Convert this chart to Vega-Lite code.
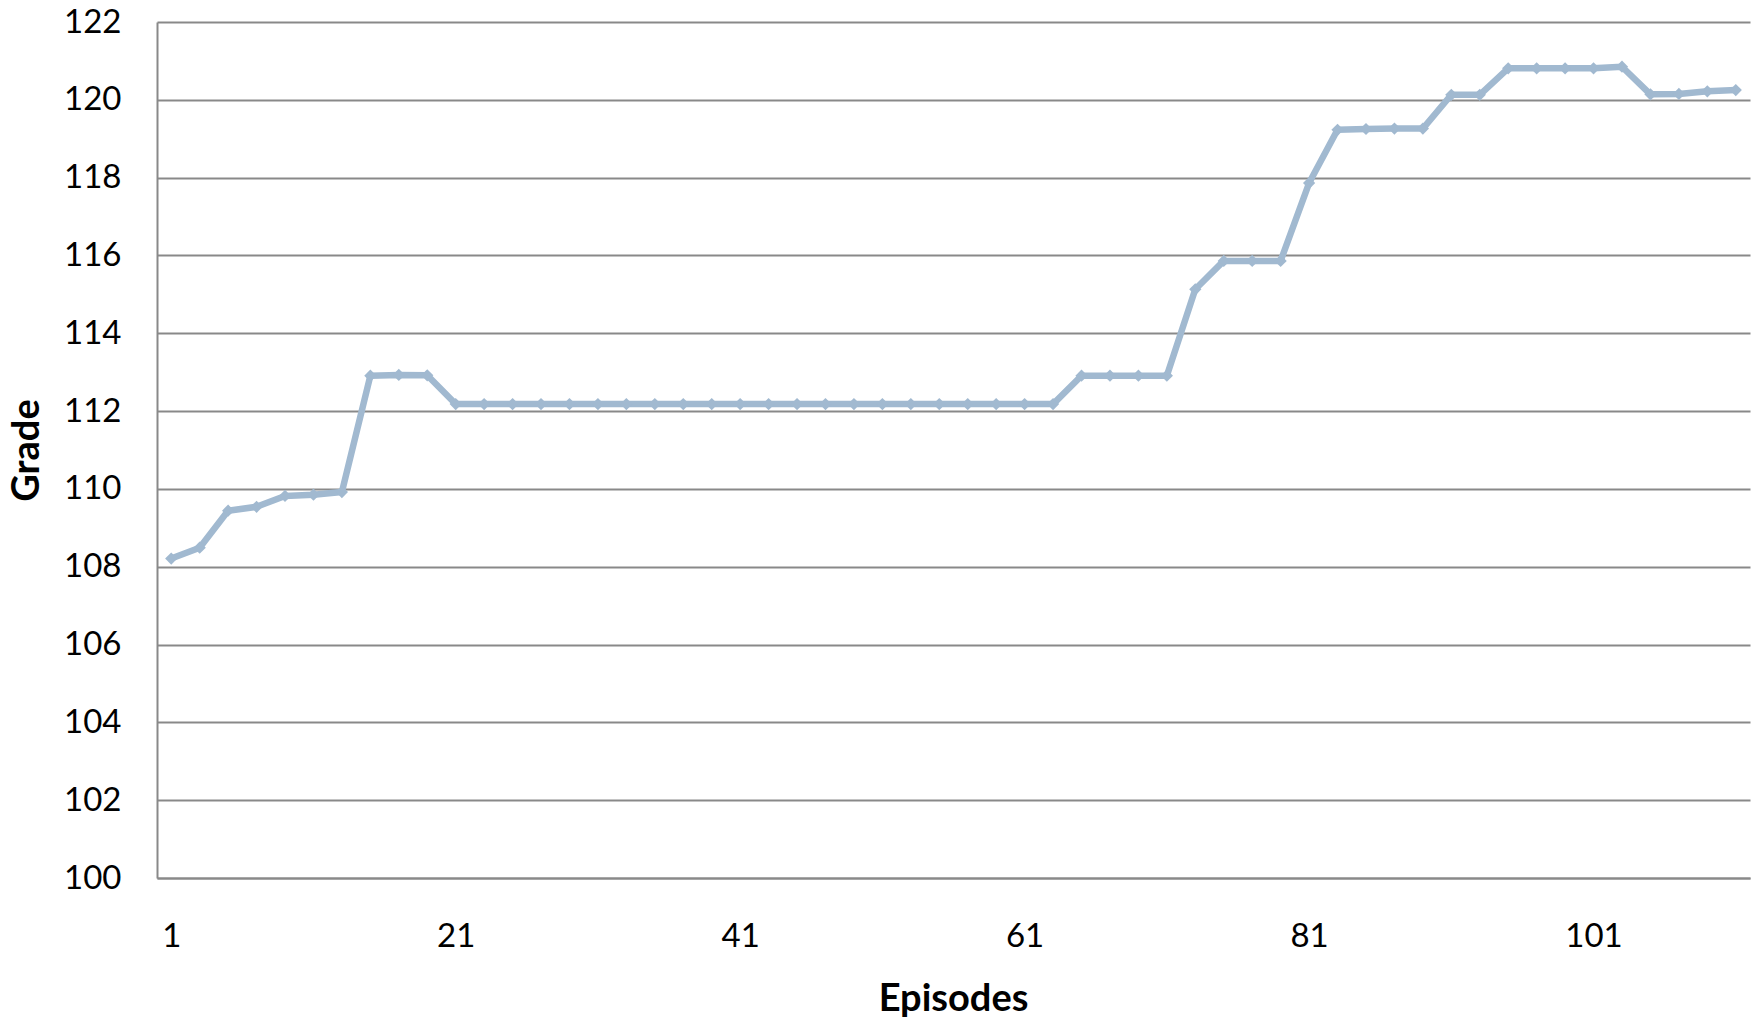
{
  "$schema": "https://vega.github.io/schema/vega-lite/v6.json",
  "width": 1593,
  "height": 856,
  "autosize": "none",
  "padding": {"left": 157, "top": 22, "right": 9, "bottom": 142},
  "background": "white",
  "config": {"view": {"stroke": null}},
  "data": {"values": [
    {"episode": 1, "grade": 108.21},
    {"episode": 3, "grade": 108.49},
    {"episode": 5, "grade": 109.44},
    {"episode": 7, "grade": 109.54},
    {"episode": 9, "grade": 109.82},
    {"episode": 11, "grade": 109.85},
    {"episode": 13, "grade": 109.92},
    {"episode": 15, "grade": 112.91},
    {"episode": 17, "grade": 112.93},
    {"episode": 19, "grade": 112.92},
    {"episode": 21, "grade": 112.18},
    {"episode": 23, "grade": 112.18},
    {"episode": 25, "grade": 112.18},
    {"episode": 27, "grade": 112.18},
    {"episode": 29, "grade": 112.18},
    {"episode": 31, "grade": 112.18},
    {"episode": 33, "grade": 112.18},
    {"episode": 35, "grade": 112.18},
    {"episode": 37, "grade": 112.18},
    {"episode": 39, "grade": 112.18},
    {"episode": 41, "grade": 112.18},
    {"episode": 43, "grade": 112.18},
    {"episode": 45, "grade": 112.18},
    {"episode": 47, "grade": 112.18},
    {"episode": 49, "grade": 112.18},
    {"episode": 51, "grade": 112.18},
    {"episode": 53, "grade": 112.18},
    {"episode": 55, "grade": 112.18},
    {"episode": 57, "grade": 112.18},
    {"episode": 59, "grade": 112.18},
    {"episode": 61, "grade": 112.18},
    {"episode": 63, "grade": 112.18},
    {"episode": 65, "grade": 112.91},
    {"episode": 67, "grade": 112.91},
    {"episode": 69, "grade": 112.91},
    {"episode": 71, "grade": 112.91},
    {"episode": 73, "grade": 115.13},
    {"episode": 75, "grade": 115.86},
    {"episode": 77, "grade": 115.86},
    {"episode": 79, "grade": 115.86},
    {"episode": 81, "grade": 117.86},
    {"episode": 83, "grade": 119.23},
    {"episode": 85, "grade": 119.25},
    {"episode": 87, "grade": 119.26},
    {"episode": 89, "grade": 119.26},
    {"episode": 91, "grade": 120.13},
    {"episode": 93, "grade": 120.13},
    {"episode": 95, "grade": 120.81},
    {"episode": 97, "grade": 120.81},
    {"episode": 99, "grade": 120.81},
    {"episode": 101, "grade": 120.81},
    {"episode": 103, "grade": 120.85},
    {"episode": 105, "grade": 120.14},
    {"episode": 107, "grade": 120.15},
    {"episode": 109, "grade": 120.22},
    {"episode": 111, "grade": 120.25}
  ]},
  "encoding": {
    "x": {
      "field": "episode",
      "type": "quantitative",
      "scale": {"domain": [0, 112], "nice": false, "zero": false},
      "axis": {
        "values": [1, 21, 41, 61, 81, 101],
        "grid": false,
        "ticks": false,
        "domainColor": "#898989",
        "domainWidth": 2,
        "labelFont": "Lato",
        "labelFontSize": 33,
        "labelColor": "#000000",
        "labelPadding": 42,
        "labelFlush": false,
        "title": "Episodes",
        "titleFont": "Lato",
        "titleFontSize": 38,
        "titleFontWeight": "bold",
        "titleColor": "#000000",
        "titleX": 796,
        "titleY": 121,
        "titleBaseline": "middle",
        "titleAnchor": "middle"
      }
    },
    "y": {
      "field": "grade",
      "type": "quantitative",
      "scale": {"domain": [100, 122], "nice": false, "zero": false},
      "axis": {
        "values": [100, 102, 104, 106, 108, 110, 112, 114, 116, 118, 120, 122],
        "grid": true,
        "gridColor": "#898989",
        "gridWidth": 2,
        "ticks": false,
        "domainColor": "#898989",
        "domainWidth": 2,
        "labelFont": "Lato",
        "labelFontSize": 33,
        "labelColor": "#000000",
        "labelPadding": 36,
        "labelFlush": false,
        "title": "Grade",
        "titleFont": "Lato",
        "titleFontSize": 38,
        "titleFontWeight": "bold",
        "titleColor": "#000000",
        "titleAngle": -90,
        "titleX": -130,
        "titleY": 428,
        "titleBaseline": "middle",
        "titleAlign": "center"
      }
    }
  },
  "layer": [
    {"mark": {"type": "line", "color": "#A1B9D0", "strokeWidth": 6.5, "strokeJoin": "round"}},
    {"mark": {"type": "point", "shape": "diamond", "filled": true, "color": "#A1B9D0", "size": 150, "opacity": 1}}
  ]
}
